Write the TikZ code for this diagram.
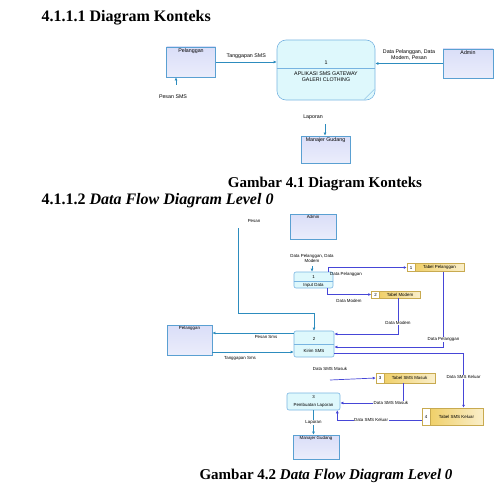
\documentclass[tikz,border=0pt]{standalone}
\usepackage{fontspec}
\setmainfont{Liberation Serif}
\newfontfamily\diafont{Liberation Sans}
\usetikzlibrary{arrows.meta,positioning}

\definecolor{entline}{RGB}{90,160,210}
\definecolor{entfill}{RGB}{218,222,248}
\definecolor{procfill}{RGB}{222,248,252}
\definecolor{procline}{RGB}{120,180,225}
\definecolor{storefill}{RGB}{240,208,105}
\definecolor{storeline}{RGB}{200,170,80}
\definecolor{tealflow}{RGB}{45,140,190}
\definecolor{blueflow}{RGB}{70,70,215}

\newcommand{\ctxfont}{\diafont\fontsize{5.3}{6.3}\selectfont}
\newcommand{\lvfont}{\diafont\fontsize{4.4}{5.2}\selectfont}
\newcommand{\headfont}{\bfseries\fontsize{16}{19}\selectfont}
\newcommand{\capfont}{\bfseries\fontsize{15}{18}\selectfont}

\tikzset{
  entity/.style={draw=entline,top color=entfill,bottom color=entfill!55!white,line width=0.7pt,inner sep=0pt},
  ctxproc/.style={draw=procline,fill=procfill,rounded corners=9pt,line width=0.6pt,inner sep=0pt},
  proc/.style={draw=procline,fill=procfill,rounded corners=2pt,line width=0.6pt,inner sep=0pt},
  storeno/.style={draw=storeline,fill=white,line width=0.5pt,inner sep=0pt,font=\lvfont},
  storebox/.style={draw=storeline,left color=storefill,right color=storefill!35!white,line width=0.5pt,inner sep=0pt,font=\lvfont},
  teal/.style={draw=tealflow,line width=0.7pt,-{Latex[length=3pt,width=3pt]}},
  blue/.style={draw=blueflow,line width=0.7pt,-{Latex[length=3pt,width=3pt]}},
  flowlbl/.style={font=\lvfont,fill=white,inner sep=0.5pt,align=center}
}

\begin{document}
\begin{tikzpicture}[x=1pt,y=-1pt]
  \useasboundingbox (0,0) rectangle (498,495);

  % headings and captions
  \node[anchor=west,font=\headfont] (head1) at (38,18) {4.1.1.1 Diagram Konteks};
  \node[font=\capfont] (cap1) at (325,184) {Gambar 4.1 Diagram Konteks};
  \node[anchor=west,font=\headfont] (head2) at (38,201) {4.1.1.2 \textit{Data Flow Diagram Level 0}};
  \node[font=\capfont] (cap2) at (326,476) {Gambar 4.2 \textit{Data Flow Diagram Level 0}};

  % ---------- diagram konteks ----------
  \node[entity,minimum width=49,minimum height=30,
        label={[font=\ctxfont,anchor=north,inner sep=1.5pt]north:Pelanggan}] (plg) at (191,62) {};
  \node[entity,minimum width=50,minimum height=29,
        label={[font=\ctxfont,anchor=north,inner sep=1.5pt]north:Admin}] (adm) at (468,63.5) {};
  \node[entity,minimum width=49,minimum height=27,
        label={[font=\ctxfont,anchor=north,inner sep=1.5pt]north:Manajer Gudang}] (man) at (325.5,149.5) {};

  \node[ctxproc,minimum width=98,minimum height=60] (apl) at (326,70) {};
  \draw[procline,line width=0.6pt] ([yshift=2pt]apl.west) -- ([yshift=2pt]apl.east);
  \draw[procline,line width=0.4pt] ([xshift=-11pt,yshift=1pt]apl.south east) -- ([xshift=-1pt,yshift=11pt]apl.south east);
  \node[font=\ctxfont] (aplno) at ([yshift=7pt]apl.center) {1};
  \node[font=\ctxfont,align=center] (apltxt) at ([yshift=-6.5pt]apl.center) {APLIKASI SMS GATEWAY\\GALERI CLOTHING};

  \coordinate (smsin) at (176,85);
  \coordinate (lapout) at (325,124);

  \draw[teal] (plg.east) -- (apl.west |- plg.east) node[midway,above,font=\ctxfont] {Tanggapan SMS};
  \draw[teal] (adm.west) -- (apl.east |- adm.west);
  \node[font=\ctxfont,align=center] (admlbl) at (409,55) {Data Pelanggan, Data\\Modem, Pesan};
  \draw[teal] (smsin) -- (smsin |- plg.south);
  \node[font=\ctxfont] (smslbl) at (173,97) {Pesan SMS};
  \draw[teal] (lapout) -- (lapout |- man.north);
  \node[font=\ctxfont] (laplbl) at (313,117) {Laporan};

  % ---------- dfd level 0 ----------
  \node[entity,minimum width=46,minimum height=25,
        label={[font=\lvfont,anchor=north,inner sep=1.5pt]north:Admin}] (adm2) at (313,226.5) {};
  \node[entity,minimum width=45,minimum height=30,
        label={[font=\lvfont,anchor=north,inner sep=1.5pt]north:Pelanggan}] (plg2) at (189.5,340) {};
  \node[entity,minimum width=46,minimum height=24,
        label={[font=\lvfont,anchor=north,inner sep=1.5pt]north:Manajer Gudang}] (man2) at (316,447) {};

  % processes
  \node[proc,minimum width=39,minimum height=16] (inp) at (313.5,280) {};
  \draw[procline,line width=0.4pt] ([yshift=-1pt]inp.west) -- ([yshift=-1pt]inp.east);
  \node[font=\lvfont] (inpno) at ([yshift=3.5pt]inp.center) {1};
  \node[font=\lvfont] (inptxt) at ([yshift=-5pt]inp.center) {Input Data};

  \node[proc,minimum width=40,minimum height=26] (kirim) at (314,344) {};
  \draw[procline,line width=0.4pt] (kirim.west) -- (kirim.east);
  \node[font=\lvfont] (kirimno) at ([yshift=5pt]kirim.center) {2};
  \node[font=\lvfont] (kirimtxt) at ([yshift=-6.5pt]kirim.center) {Kirim SMS};

  \node[proc,minimum width=53,minimum height=17] (lap) at (313.5,401.5) {};
  \node[font=\lvfont] (lapno) at ([yshift=4.5pt]lap.center) {3};
  \node[font=\lvfont] (laptxt) at ([yshift=-3.5pt]lap.center) {Pembuatan Laporan};

  % data stores
  \node[storeno,minimum width=8,minimum height=8] (tplgno) at (411,267.5) {1};
  \node[storebox,minimum width=49,minimum height=8,right=-0.5pt of tplgno] (tplg) {Tabel Pelanggan};
  \node[storeno,minimum width=8,minimum height=7] (tmdmno) at (375.5,294.5) {2};
  \node[storebox,minimum width=41,minimum height=7,right=-0.5pt of tmdmno] (tmdm) {Tabel Modem};
  \node[storeno,minimum width=8,minimum height=10] (tsmsmno) at (380,378) {3};
  \node[storebox,minimum width=51,minimum height=10,right=-0.5pt of tsmsmno] (tsmsm) {Tabel SMS Masuk};
  \node[storeno,minimum width=8,minimum height=17] (tsmskno) at (426,416.5) {4};
  \node[storebox,minimum width=53,minimum height=17,right=-0.5pt of tsmskno] (tsmsk) {Tabel SMS Keluar};

  \coordinate (pesanin) at (238,228);
  \coordinate (pesanbend) at (238,313);
  \coordinate (admin2out) at (312,266);
  \coordinate (smsmasuk) at (330,380);

  % teal flows
  \draw[teal,-] (pesanin) -- (pesanbend);
  \draw[teal] (pesanbend) -| (kirim.north);
  \node[font=\lvfont] (pesanlbl) at (254,221) {Pesan};
  \draw[teal] (admin2out) -- (admin2out |- inp.north);
  \node[font=\lvfont,align=center] (inplbl) at (312,258.5) {Data Pelanggan, Data\\Modem};
  \draw[teal] ([yshift=11pt]kirim.west) -- ([yshift=7pt]plg2.east);
  \node[font=\lvfont] (pesansms) at (266,337) {Pesan Sms};
  \draw[teal] ([yshift=-12pt]plg2.east) -- ([yshift=-8pt]kirim.west);
  \node[font=\lvfont] (tanggap) at (240,358) {Tanggapan Sms};
  \draw[teal] (lap.south) -- (lap.south |- man2.north) node[flowlbl,midway] {Laporan};

  % blue flows
  \draw[blue] ([xshift=-5pt]inp.north east) |- (tplgno.west);
  \node[font=\lvfont] (dplg1) at (346,274) {Data Pelanggan};
  \draw[blue] ([xshift=-6pt]inp.south east) |- (tmdmno.west);
  \node[font=\lvfont] (dmdm1) at (349,301) {Data Modem};
  \draw[blue] ([xshift=-2pt]tmdm.south) |- ([yshift=10pt]kirim.east) node[flowlbl,pos=0.35] {Data Modem};
  \draw[blue] ([xshift=4pt]tplg.south) |- ([yshift=-3pt]kirim.east) node[flowlbl,pos=0.45] {Data Pelanggan};
  \draw[blue] ([yshift=-9pt]kirim.east) -| ([xshift=7pt]tsmsk.north) node[flowlbl,pos=0.72] {Data SMS Keluar};
  \draw[blue] (smsmasuk) -- (tsmsmno.west);
  \node[font=\lvfont] (dsmsm1) at (330,369) {Data SMS Masuk};
  \draw[blue] ([xshift=-6pt]tsmsm.south) |- ([yshift=-1.5pt]lap.east) node[flowlbl,pos=0.6] {Data SMS Masuk};
  \draw[blue] ([yshift=-3.5pt]tsmskno.west) -| ([xshift=-3pt]lap.south east) node[flowlbl,pos=0.3] {Data SMS Keluar};
\end{tikzpicture}
\end{document}
